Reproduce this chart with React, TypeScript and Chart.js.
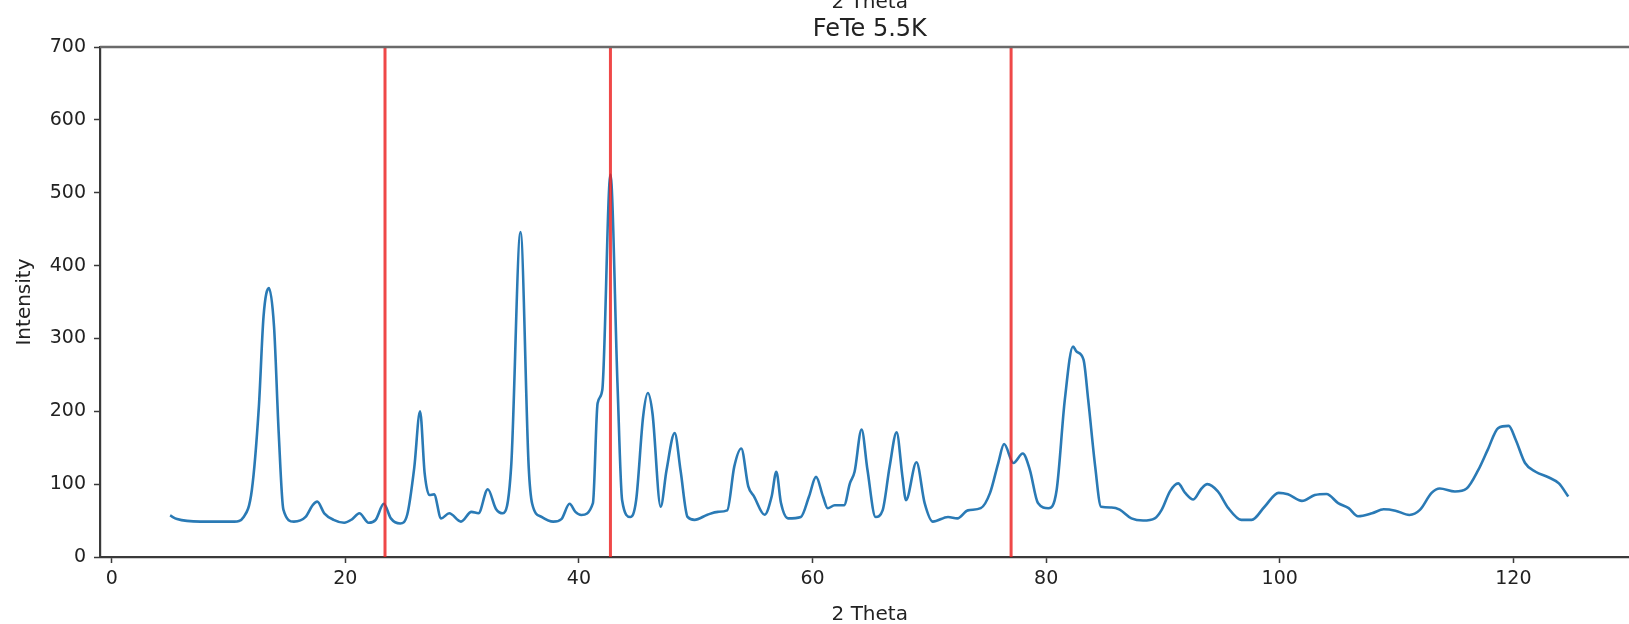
import React, { useEffect, useRef } from "react";
import { Chart, registerables } from "chart.js";

Chart.register(...registerables);

const theta: number[] = [
  5.0, 5.6, 7.6, 10.5, 11.3, 12.0, 12.6, 13.0, 13.46, 13.9, 14.3, 14.7, 15.6, 16.6, 17.2, 17.6,
  18.2, 19.0, 19.9, 20.6, 21.2, 22.0, 22.6, 23.3, 23.9, 24.7, 25.3, 25.9, 26.4, 26.8, 27.2, 27.6,
  28.2, 28.9, 29.9, 30.8, 31.4, 32.2, 32.9, 33.5, 34.2, 35.0, 35.7, 36.0, 36.8, 37.8, 38.5, 39.2,
  39.7, 40.2, 41.2, 41.6, 42.0, 42.7, 43.3, 43.7, 44.4, 44.9, 45.5, 45.9, 46.3, 47.0, 47.5, 48.2,
  48.7, 49.3, 49.9, 51.0, 51.9, 52.7, 53.3, 53.9, 54.5, 55.0, 55.9, 56.5, 56.9, 57.3, 57.9, 59.0,
  59.7, 60.3, 60.9, 61.3, 61.9, 62.7, 63.2, 63.6, 64.2, 64.7, 65.4, 66.0, 66.6, 67.2, 67.7, 68.0,
  68.9, 69.6, 70.3, 71.6, 72.4, 73.3, 74.4, 75.2, 75.9, 76.4, 77.2, 78.0, 78.6, 79.3, 80.2, 80.9,
  81.6, 82.3, 82.6, 83.2, 83.6, 84.2, 84.7, 85.6, 86.3, 87.3, 88.3, 89.3, 89.9, 90.6, 91.3, 91.9,
  92.6, 93.3, 93.8, 94.7, 95.6, 96.7, 97.6, 98.7, 99.9, 100.7, 101.9, 103.0, 104.0, 105.0, 105.9,
  106.7, 107.9, 108.9, 109.9, 111.1, 112.0, 113.0, 113.7, 115.0, 116.0, 117.0, 117.8, 118.7, 119.6,
  120.2, 121.0, 121.9, 123.0, 123.9, 124.7,
];

const intensity: number[] = [
  57, 52, 48.5, 48.5, 55, 92, 206, 330, 369, 316, 170, 65, 48.5, 55, 71, 76,
  60, 51, 47, 52, 60, 47, 51, 73, 53, 46, 58, 122, 200, 114, 85, 86,
  53, 60, 48.5, 62, 60, 93, 66, 60, 124, 446, 124, 73, 55, 48.5, 52, 73,
  62, 57.7, 74, 211, 229, 525, 239, 78, 55, 78, 193, 225, 197, 69, 119, 170,
  119, 55, 51, 58, 62, 64, 124, 149, 97, 83, 58, 83, 117, 74, 53, 55,
  83, 110, 83, 67, 71, 71, 101, 117, 175, 120, 55, 64, 124, 171, 110, 78,
  130, 74, 48.5, 55, 53, 64, 67, 88, 129, 155, 129, 142, 120, 74, 67, 92,
  216, 289, 282, 271, 216, 124, 69, 68, 65, 53, 50, 53, 65, 90, 101, 88,
  79, 94, 100, 90, 67, 51, 51, 69, 88, 86, 77, 85, 86.5, 74, 67,
  56, 60, 65.5, 63.6, 57.7, 64.6, 88, 94, 90, 94, 119.5, 147, 177, 180,
  161, 129, 117, 109.5, 101, 83,
];

// vertical reference lines (2θ)
const markerLines: number[] = [23.4, 42.7, 77.0];

const xTickValues: number[] = [0, 20, 40, 60, 80, 100, 120];
const yTickValues: number[] = [0, 100, 200, 300, 400, 500, 600, 700];

const chartTitle = "FeTe 5.5K";
const clippedTitle = "2 Theta";
const xLabel = "2 Theta";
const yLabel = "Intensity";

const FONT = "DejaVu Sans";
const TEXT = "#222222";
const SPINE = "#3a3a3a";

export default function App() {
  const ref = useRef<HTMLCanvasElement | null>(null);

  useEffect(() => {
    document.body.style.margin = "0";
    const canvas = ref.current;
    if (!canvas) return;

    const textPlugin = {
      id: "mplText",
      afterDraw(chart: any) {
        const { ctx, chartArea, scales } = chart;
        const xs = scales.x;
        // matplotlib axes extend slightly beyond the visible crop; centre on full axes
        const cx = xs.getPixelForValue((-1.0 + 130.8) / 2);
        ctx.save();
        // top spine
        ctx.strokeStyle = "#6a6a6a";
        ctx.lineWidth = 2.5;
        ctx.beginPath();
        ctx.moveTo(chartArea.left, chartArea.top);
        ctx.lineTo(chartArea.right, chartArea.top);
        ctx.stroke();

        ctx.fillStyle = TEXT;
        ctx.textAlign = "center";
        ctx.textBaseline = "alphabetic";
        ctx.font = `20px "${FONT}"`;
        ctx.fillText(clippedTitle, cx, 8);
        ctx.font = `24px "${FONT}"`;
        ctx.fillText(chartTitle, cx, 36);
        ctx.font = `20px "${FONT}"`;
        ctx.fillText(xLabel, cx, 620);

        ctx.translate(30, (chartArea.top + chartArea.bottom) / 2);
        ctx.rotate(-Math.PI / 2);
        ctx.fillText(yLabel, 0, 0);
        ctx.restore();
      },
    };

    const chart = new Chart(canvas, {
      type: "line",
      data: {
        datasets: [
          ...markerLines.map((m) => ({
            data: [
              { x: m, y: 0 },
              { x: m, y: 700 },
            ],
            borderColor: "rgba(236, 32, 32, 0.82)",
            borderWidth: 3,
            pointRadius: 0,
            order: 1,
          })),
          {
            data: theta.map((t, i) => ({ x: t, y: intensity[i] })),
            borderColor: "#2a7ab5",
            borderWidth: 2.6,
            pointRadius: 0,
            cubicInterpolationMode: "monotone" as const,
            order: 2,
          },
        ],
      },
      options: {
        responsive: false,
        animation: false,
        devicePixelRatio: 1,
        layout: { padding: { top: 47, left: 0, right: 0, bottom: 0 } },
        plugins: {
          legend: { display: false },
          tooltip: { enabled: false },
          title: { display: false },
        },
        scales: {
          x: {
            type: "linear",
            min: -1.0,
            max: 129.9,
            afterFit: (s: any) => {
              s.height = 67;
            },
            afterBuildTicks: (s: any) => {
              s.ticks = xTickValues.map((v) => ({ value: v }));
            },
            ticks: {
              font: { family: FONT, size: 19 },
              color: TEXT,
              padding: 5,
              maxRotation: 0,
              callback: (v: any) => String(v),
            },
            grid: {
              display: true,
              drawOnChartArea: false,
              drawTicks: true,
              tickLength: 6,
              tickColor: SPINE,
              tickWidth: 1.5,
            },
            border: { display: true, color: SPINE, width: 2.2 },
          },
          y: {
            type: "linear",
            min: 0,
            max: 700,
            afterFit: (s: any) => {
              s.width = 100;
            },
            afterBuildTicks: (s: any) => {
              s.ticks = yTickValues.map((v) => ({ value: v }));
            },
            ticks: {
              font: { family: FONT, size: 19 },
              color: TEXT,
              padding: 8,
              callback: (v: any) => String(v),
            },
            grid: {
              display: true,
              drawOnChartArea: false,
              drawTicks: true,
              tickLength: 6,
              tickColor: SPINE,
              tickWidth: 1.5,
            },
            border: { display: true, color: SPINE, width: 2.2 },
          },
        },
      },
      plugins: [textPlugin],
    });

    return () => chart.destroy();
  }, []);

  return (
    <div style={{ position: "absolute", left: 0, top: 0, width: 1629, height: 624, background: "#fff" }}>
      <canvas ref={ref} width={1629} height={624} style={{ width: 1629, height: 624, display: "block" }} />
    </div>
  );
}
